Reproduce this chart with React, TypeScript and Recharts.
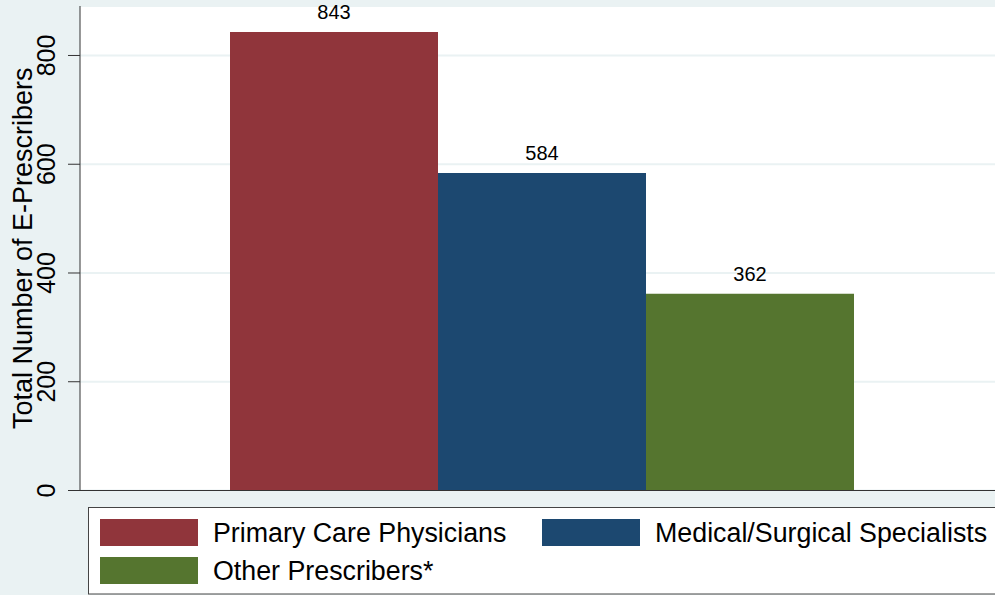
import { BarChart, Bar, XAxis, YAxis, CartesianGrid, LabelList, Label } from "recharts";

const groups = ["All prescribers"];
const seriesNames = ["Primary Care Physicians", "Medical/Surgical Specialists", "Other Prescribers*"];
const seriesKeys = ["primary", "specialists", "other"];
const seriesValues = [843, 584, 362];
const yTicks = [0, 200, 400, 600, 800];

const seriesColors = ["#90353B", "#1C4870", "#55752F"];
const bg = "#EAF2F3";
const font = "'Liberation Sans', Arial, sans-serif";

const data = groups.map((g) => {
  const row: Record<string, string | number> = { group: g };
  seriesKeys.forEach((k, i) => {
    row[k] = seriesValues[i];
  });
  return row;
});

const YTick = ({ x, y, payload }: any) => {
  const tx = x - 11;
  return (
    <text
      x={tx}
      y={y}
      transform={`rotate(-90 ${tx} ${y})`}
      textAnchor="middle"
      fontSize={25}
      fontFamily={font}
      fill="#000"
    >
      {payload.value}
    </text>
  );
};

const YTitle = (props: any) => {
  const vb = props.viewBox || { y: 6, height: 484 };
  const cy = vb.y + vb.height / 2;
  return (
    <text
      x={32}
      y={cy}
      transform={`rotate(-90 32 ${cy})`}
      textAnchor="middle"
      fontSize={27}
      fontFamily={font}
      fill="#000"
    >
      Total Number of E-Prescribers
    </text>
  );
};

const legendCols = [100, 542];
const legendRows = [519, 557];

function LegendBox() {
  return (
    <svg
      width={930}
      height={88}
      style={{ position: "absolute", left: 88, top: 507, overflow: "visible" }}
    >
      <rect x={0.5} y={0.5} width={940} height={86.5} fill="#fff" stroke="#444" strokeWidth={1} />
      {seriesNames.map((name, i) => {
        const sx = legendCols[i % 2] - 88;
        const sy = legendRows[Math.floor(i / 2)] - 507;
        return (
          <g key={name}>
            <rect x={sx} y={sy} width={98} height={27} fill={seriesColors[i]} />
            <text x={sx + 113} y={sy + 23} fontSize={26.8} fontFamily={font} fill="#000">
              {name}
            </text>
          </g>
        );
      })}
    </svg>
  );
}

export default function App() {
  return (
    <div
      style={{
        position: "fixed",
        top: 0,
        left: 0,
        width: 995,
        height: 595,
        overflow: "hidden",
        background: bg,
        fontFamily: font,
      }}
    >
      <BarChart
        width={1010}
        height={595}
        data={data}
        margin={{ top: 6, right: 6, bottom: 0, left: 0 }}
        barCategoryGap={150}
        barGap={0}
      >
        <CartesianGrid vertical={false} fill="#fff" stroke={bg} strokeWidth={2} />
        <XAxis
          dataKey="group"
          tick={false}
          tickLine={false}
          axisLine={{ stroke: "#333" }}
          height={104.5}
        />
        <YAxis
          width={80}
          domain={[0, 891]}
          ticks={yTicks}
          interval={0}
          tickSize={12}
          tick={<YTick />}
          axisLine={{ stroke: "#333" }}
          tickLine={{ stroke: "#333" }}
        >
          <Label content={<YTitle />} />
        </YAxis>
        {seriesKeys.map((k, i) => (
          <Bar key={k} dataKey={k} name={seriesNames[i]} fill={seriesColors[i]} isAnimationActive={false}>
            <LabelList dataKey={k} position="top" offset={13} fontSize={20} fontFamily={font} fill="#000" />
          </Bar>
        ))}
      </BarChart>
      <LegendBox />
    </div>
  );
}
